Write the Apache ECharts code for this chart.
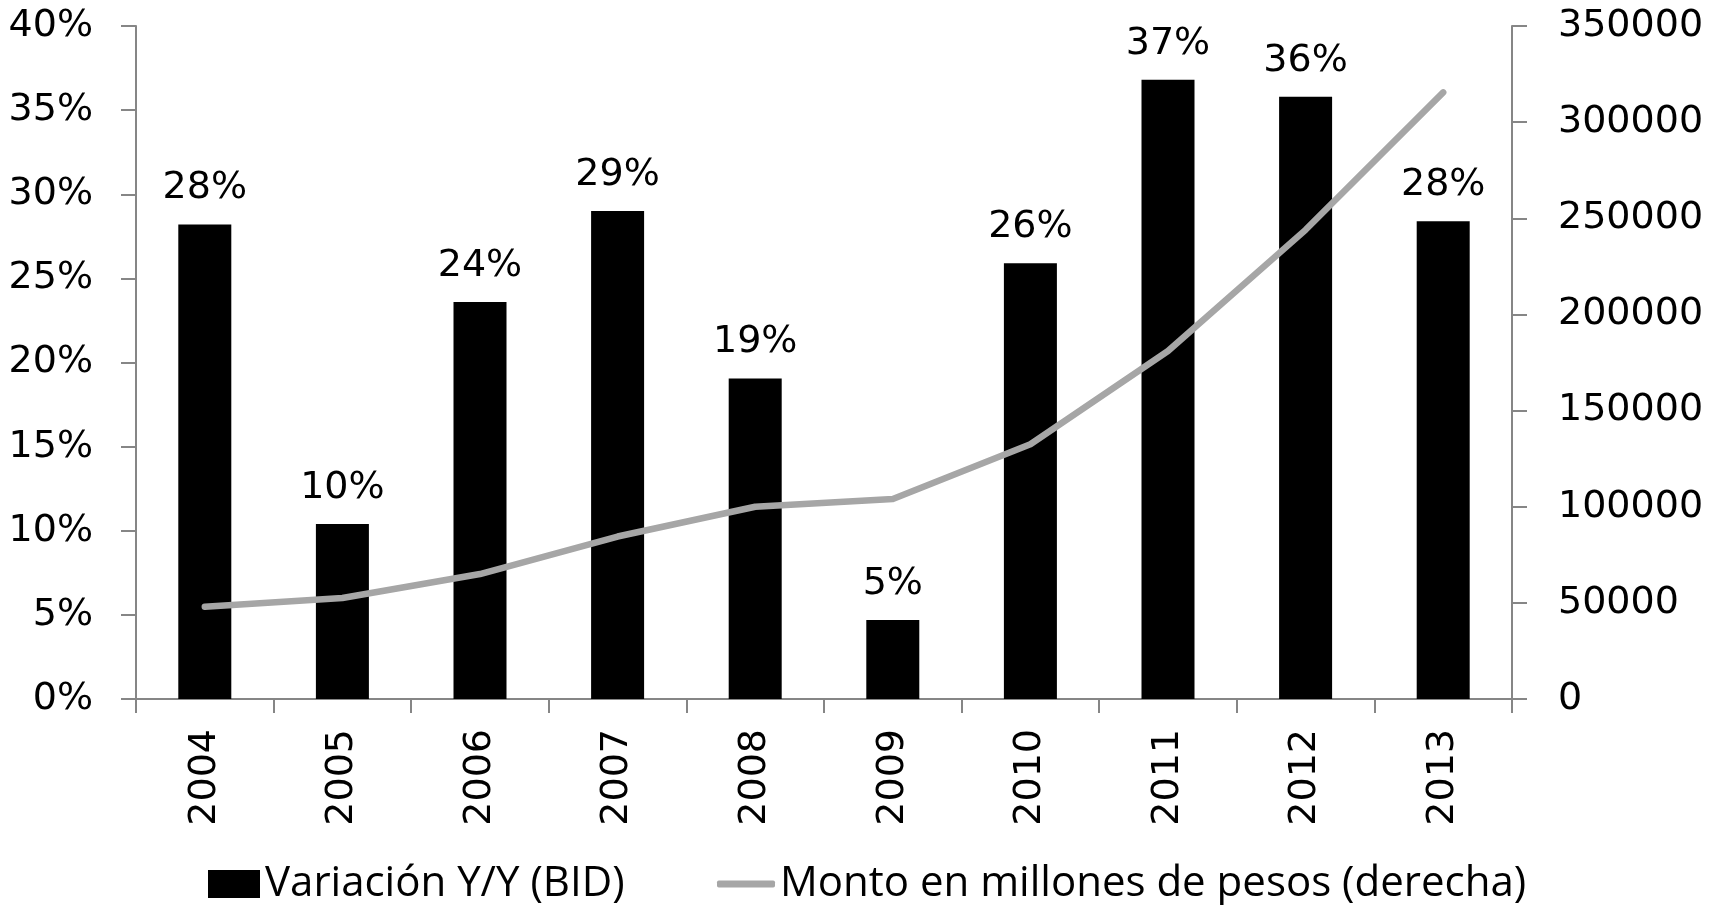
<!DOCTYPE html>
<html>
<head>
    <meta charset="utf-8" />
    <title>Variación Y/Y</title>
    <script src="https://cdn.jsdelivr.net/npm/echarts@6.0.0/dist/echarts.min.js"></script>
    <style>
        html, body { margin: 0; padding: 0; background: #fff; }
    </style>
</head>
<body>
    <div id="main" style="width:1721px;height:905px;"></div>
    <script type="text/javascript">
        var years = ['2004', '2005', '2006', '2007', '2008', '2009', '2010', '2011', '2012', '2013'];
        // variación interanual, en %
        var variacion = [28.2, 10.4, 23.6, 29.0, 19.05, 4.7, 25.9, 36.8, 35.8, 28.4];
        // monto en millones de pesos (eje derecho)
        var monto = [48000, 52500, 65000, 84500, 100000, 104000, 132500, 181000, 244000, 315500];

        var tickFont = "'DejaVu Sans', Verdana, sans-serif";
        var legendFont = "'Liberation Sans Narrow', 'Open Sans', sans-serif";
        var axisGray = '#868686';

        var myChart = echarts.init(document.getElementById('main'));

        var option = {
            animation: false,
            grid: { left: 136, right: 209, top: 26, bottom: 206 },
            legend: [
                {
                    left: 203, top: 858,
                    itemWidth: 52, itemHeight: 28, itemGap: 5,
                    data: [{ name: 'Variación Y/Y (BID)', icon: 'rect' }],
                    textStyle: { fontFamily: legendFont, fontSize: 42, color: '#000' }
                },
                {
                    left: 712, top: 858,
                    itemWidth: 58, itemHeight: 7,
                    data: [{ name: 'Monto en millones de pesos (derecha)', icon: 'roundRect' }],
                    textStyle: { fontFamily: legendFont, fontSize: 42, color: '#000' }
                }
            ],
            xAxis: {
                type: 'category',
                data: years,
                axisLine: { lineStyle: { color: axisGray, width: 2 } },
                axisTick: { show: true, length: 14, lineStyle: { color: axisGray, width: 2 } },
                axisLabel: {
                    rotate: 90, margin: 30, color: '#000',
                    fontFamily: tickFont, fontSize: 38
                }
            },
            yAxis: [
                {
                    type: 'value', min: 0, max: 40, interval: 5,
                    splitLine: { show: false },
                    axisLine: { show: true, lineStyle: { color: axisGray, width: 2 } },
                    axisTick: { show: true, length: 15, lineStyle: { color: axisGray, width: 2 } },
                    axisLabel: {
                        margin: 43, color: '#000', fontFamily: tickFont, fontSize: 38,
                        formatter: '{value}%'
                    }
                },
                {
                    type: 'value', min: 0, max: 350000, interval: 50000,
                    position: 'right',
                    splitLine: { show: false },
                    axisLine: { show: true, lineStyle: { color: axisGray, width: 2 } },
                    axisTick: { show: true, length: 15, lineStyle: { color: axisGray, width: 2 } },
                    axisLabel: {
                        margin: 46, color: '#000', fontFamily: tickFont, fontSize: 38,
                        formatter: function (v) { return String(v); }
                    }
                }
            ],
            series: [
                {
                    name: 'Variación Y/Y (BID)',
                    type: 'bar',
                    data: variacion,
                    barWidth: 53,
                    itemStyle: { color: '#000' },
                    label: {
                        show: true, position: 'top', distance: 17,
                        color: '#000', fontFamily: tickFont, fontSize: 38,
                        formatter: function (p) { return Math.round(p.value) + '%'; }
                    }
                },
                {
                    name: 'Monto en millones de pesos (derecha)',
                    type: 'line',
                    yAxisIndex: 1,
                    data: monto,
                    symbol: 'none',
                    lineStyle: { color: '#a6a6a6', width: 6.5, cap: 'round', join: 'round' },
                    itemStyle: { color: '#a6a6a6' },
                    z: 3
                }
            ]
        };

        myChart.setOption(option);
    </script>
</body>
</html>
